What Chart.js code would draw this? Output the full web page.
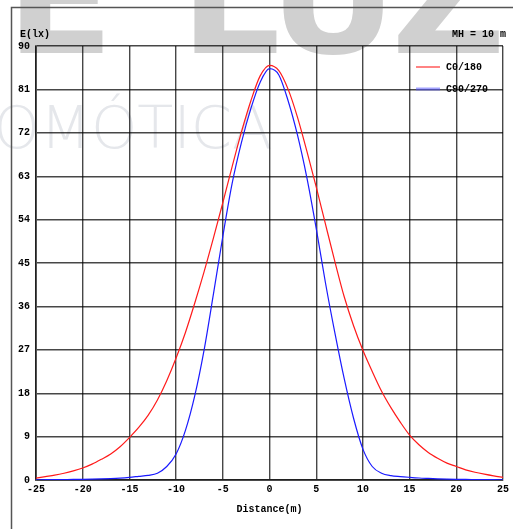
<!DOCTYPE html>
<html>
<head>
<meta charset="utf-8">
<script src="https://cdn.jsdelivr.net/npm/chart.js@4.4.0/dist/chart.umd.min.js"></script>
<style>
html, body { margin: 0; padding: 0; background: #fff; }
</style>
</head>
<body>
<canvas id="illum_Chart" width="513" height="529"></canvas>
<script>
// distance from the pole (m)
var distances = [-25, -24, -23, -22, -21, -20, -19, -18, -17, -16,
    -15, -14, -13, -12, -11, -10, -9, -8, -7, -6,
    -5, -4, -3, -2, -1, 0, 1, 2, 3, 4,
    5, 6, 7, 8, 9, 10, 11, 12, 13, 14,
    15, 16, 17, 18, 19, 20, 21, 22, 23, 24, 25];

// illuminance E (lx), plane C0/180
var c0_180 = [0.4, 0.7, 1.0, 1.4, 1.9, 2.5, 3.3, 4.3, 5.4, 6.9,
    8.8, 10.9, 13.4, 16.6, 20.6, 25.3, 30.6, 36.7, 43.2, 50.2,
    57.5, 65.0, 72.2, 78.6, 83.8, 86.0, 84.9, 81.0, 75.2, 68.2,
    60.8, 53.0, 45.3, 38.0, 32.0, 26.9, 22.5, 18.4, 15.0, 12.0,
    9.3, 7.3, 5.7, 4.5, 3.5, 2.8, 2.1, 1.6, 1.2, 0.85, 0.55];

// illuminance E (lx), plane C90/270
var c90_270 = [0.05, 0.06, 0.07, 0.09, 0.11, 0.14, 0.18, 0.23, 0.3, 0.4,
    0.55, 0.75, 0.95, 1.4, 2.8, 5.4, 10.3, 17.5, 27.0, 38.6,
    50.5, 61.5, 70.0, 77.0, 82.5, 85.3, 84.0, 78.6, 71.5, 62.7,
    52.2, 40.8, 30.5, 21.0, 12.8, 6.4, 2.8, 1.4, 0.9, 0.7,
    0.55, 0.42, 0.33, 0.25, 0.19, 0.15, 0.12, 0.1, 0.08, 0.06, 0.05];

var seriesNames = ["C0/180", "C90/270"];

var monoFont = { family: "'Liberation Mono', 'DejaVu Sans Mono', monospace", size: 10, weight: "bold" };
var gridColor = "rgba(0,0,0,0.72)";

function toPoints(xs, ys) {
    var pts = [];
    for (var i = 0; i < xs.length; i++) {
        pts.push({ x: xs[i], y: ys[i] });
    }
    return pts;
}

// watermark, frame, titles and legend drawn on the canvas
var decorPlugin = {
    id: "decor",
    beforeDraw: function (chart) {
        var ctx = chart.ctx;
        ctx.save();
        ctx.fillStyle = "#fff";
        ctx.fillRect(0, 0, chart.width, chart.height);

        // big grey watermark
        ctx.font = "bold 158px 'DejaVu Sans'";
        ctx.fillStyle = "#d0d0d0";
        ctx.textBaseline = "alphabetic";
        ctx.textAlign = "right";
        ctx.fillText("DE", 114, 53);
        ctx.textAlign = "left";
        ctx.letterSpacing = "-6px";
        ctx.fillText("LUZ", 180, 53);
        ctx.letterSpacing = "0px";

        ctx.font = "200 59px 'DejaVu Sans'";
        ctx.fillStyle = "#e5e7eb";
        var xD = 40 - ctx.measureText("DO").width;
        ctx.fillText("DOMÓTICA", xD, 148);
        ctx.restore();
    },
    afterDraw: function (chart) {
        var ctx = chart.ctx;
        ctx.save();

        // outer frame
        ctx.strokeStyle = "#555";
        ctx.lineWidth = 1.5;
        ctx.beginPath();
        ctx.moveTo(11.5, 529);
        ctx.lineTo(11.5, 7.5);
        ctx.lineTo(513, 7.5);
        ctx.stroke();

        ctx.fillStyle = "#000";
        ctx.font = "bold 10px 'Liberation Mono', 'DejaVu Sans Mono', monospace";
        ctx.textBaseline = "middle";
        ctx.textAlign = "left";
        ctx.fillText("E(lx)", 20, 34);
        ctx.textAlign = "right";
        ctx.fillText("MH = 10 m", 506, 34);
        ctx.textAlign = "center";
        ctx.fillText("Distance(m)", (chart.chartArea.left + chart.chartArea.right) / 2, 509);

        // legend
        ctx.textAlign = "left";
        ctx.strokeStyle = "#ff3030";
        ctx.lineWidth = 1.2;
        ctx.beginPath();
        ctx.moveTo(416, 67);
        ctx.lineTo(440, 67);
        ctx.stroke();
        ctx.fillText(seriesNames[0], 446, 67);

        ctx.strokeStyle = "rgba(90,90,255,0.55)";
        ctx.lineWidth = 3;
        ctx.beginPath();
        ctx.moveTo(416, 89);
        ctx.lineTo(440, 89);
        ctx.stroke();
        ctx.fillText(seriesNames[1], 446, 89);

        ctx.restore();
    }
};

var ctxP = document.getElementById("illum_Chart").getContext("2d");

var illum_Chart = new Chart(ctxP, {
    type: "line",
    data: {
        datasets: [{
            label: seriesNames[0],
            data: toPoints(distances, c0_180),
            borderColor: "#ff1a1a",
            borderWidth: 1.2,
            pointRadius: 0,
            fill: false,
            cubicInterpolationMode: "monotone"
        }, {
            label: seriesNames[1],
            data: toPoints(distances, c90_270),
            borderColor: "#1a1aff",
            borderWidth: 1.2,
            pointRadius: 0,
            fill: false,
            cubicInterpolationMode: "monotone"
        }]
    },
    options: {
        responsive: false,
        animation: false,
        layout: { padding: { left: 0, right: 10, top: 46, bottom: 0 } },
        plugins: {
            legend: { display: false },
            tooltip: { enabled: false }
        },
        scales: {
            x: {
                type: "linear",
                min: -25,
                max: 25,
                ticks: { stepSize: 5, padding: 3, color: "#000", font: monoFont, maxRotation: 0 },
                grid: { color: gridColor, lineWidth: 1.4, drawTicks: false },
                border: { color: "rgba(0,0,0,0.55)", width: 2 },
                afterFit: function (scale) { scale.height = 49; }
            },
            y: {
                min: 0,
                max: 90,
                ticks: { stepSize: 9, padding: 6, color: "#000", font: monoFont },
                grid: { color: gridColor, lineWidth: 1.4, drawTicks: false },
                border: { color: "rgba(0,0,0,0.55)", width: 2 },
                afterFit: function (scale) { scale.width = 36; }
            }
        }
    },
    plugins: [decorPlugin]
});
</script>
</body>
</html>
